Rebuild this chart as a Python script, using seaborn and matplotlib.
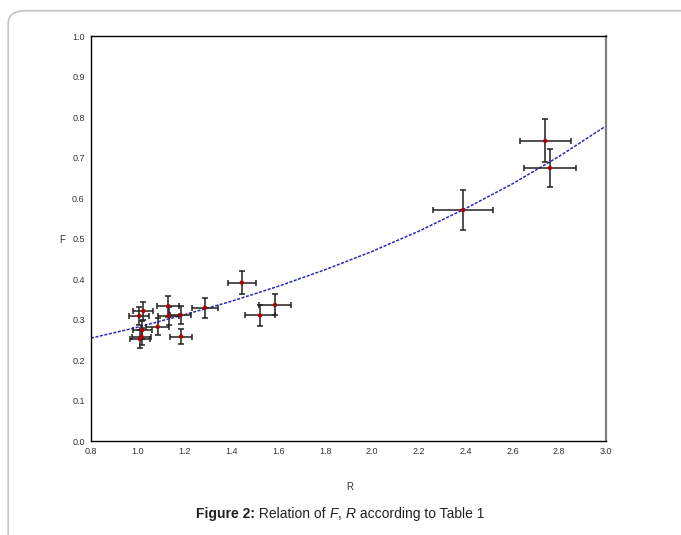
import numpy as np
import pandas as pd
import matplotlib
matplotlib.use('Agg')
import matplotlib.pyplot as plt
import seaborn as sns
from matplotlib.patches import FancyBboxPatch

R = [1.009, 1.016, 1.019, 1.006, 1.024, 1.085, 1.130, 1.132, 1.183, 1.185,
     1.287, 1.444, 1.522, 1.586, 2.389, 2.740, 2.760]
F = [0.252, 0.258, 0.274, 0.309, 0.321, 0.282, 0.333, 0.309, 0.311, 0.258,
     0.329, 0.391, 0.310, 0.336, 0.570, 0.741, 0.674]
R_err = [0.044, 0.040, 0.040, 0.042, 0.043, 0.048, 0.046, 0.046, 0.046, 0.046,
         0.056, 0.060, 0.063, 0.068, 0.128, 0.109, 0.110]
F_err = [0.022, 0.020, 0.022, 0.022, 0.022, 0.021, 0.026, 0.022, 0.022, 0.019,
         0.025, 0.028, 0.025, 0.026, 0.049, 0.053, 0.048]

# fitted curve, read at 0.2 steps
fit_R = [0.8, 1.0, 1.2, 1.4, 1.6, 1.8, 2.0, 2.2, 2.4, 2.6, 2.8, 3.0]
fit_F = [0.254, 0.281, 0.312, 0.345, 0.382, 0.423, 0.468, 0.518, 0.574, 0.635, 0.703, 0.778]

x_ticks = [0.8, 1.0, 1.2, 1.4, 1.6, 1.8, 2.0, 2.2, 2.4, 2.6, 2.8, 3.0]
y_ticks = [0.0, 0.1, 0.2, 0.3, 0.4, 0.5, 0.6, 0.7, 0.8, 0.9, 1.0]

# caption pieces: (text, weight, style)
caption = [('Figure 2:', 'bold', 'normal'), (' Relation of ', 'normal', 'normal'),
           ('F', 'normal', 'italic'), (', ', 'normal', 'normal'),
           ('R', 'normal', 'italic'), (' according to Table 1', 'normal', 'normal')]

df = pd.DataFrame({'R': R, 'F': F})
fit = pd.DataFrame({'R': fit_R, 'F': fit_F})

sns.set_style('white')
plt.rcParams['font.family'] = ['Liberation Sans', 'DejaVu Sans']

fig = plt.figure(figsize=(6.81, 5.35), dpi=100)
ax = fig.add_axes([0.1336, 0.1757, 0.7564, 0.757])

# page frame
frame = FancyBboxPatch((0.012, -0.1), 1.1, 1.08, boxstyle='round,pad=0,rounding_size=0.025',
                       transform=fig.transFigure, fill=False, edgecolor='#c4c4c4', lw=1.2,
                       clip_on=False)
fig.patches.append(frame)

sns.lineplot(data=fit, x='R', y='F', ax=ax, color='#2a2ab8', lw=1.1,
             linestyle=(0, (2, 1)), sort=False)
ax.errorbar(R, F, xerr=R_err, yerr=F_err, fmt='none', ecolor='#202020',
            elinewidth=1.1, capsize=2.5, capthick=1.1)
sns.scatterplot(data=df, x='R', y='F', ax=ax, color='#b00000', s=10,
                edgecolor='none', zorder=5)

ax.set_xlim(0.8, 3.0)
ax.set_ylim(0.0, 1.0)
ax.set_xticks(x_ticks)
ax.set_yticks(y_ticks)
ax.set_xticklabels([f'{v:.1f}' for v in x_ticks])
ax.set_yticklabels([f'{v:.1f}' for v in y_ticks])
ax.tick_params(axis='both', direction='out', length=3, width=0.8, labelsize=6.5,
               colors='black', pad=1.5)
for lab in ax.get_xticklabels() + ax.get_yticklabels():
    lab.set_color('#333333')

for s in ['left', 'bottom', 'top']:
    ax.spines[s].set_color('black')
    ax.spines[s].set_linewidth(1.0)
ax.spines['right'].set_color('#808080')
ax.spines['right'].set_linewidth(1.6)

ax.set_xlabel('')
ax.set_ylabel('')
fig.text(62 / 681, 1 - 240 / 535, 'F', fontsize=7, color='#333333', ha='center', va='center')
fig.text(350 / 681, 1 - 487 / 535, 'R', fontsize=7, color='#333333', ha='center', va='center')

# caption built from pieces, then centred
renderer = fig.canvas.get_renderer()
x0 = 196
y0 = 535 - 518
pieces = []
for txt, w, st in caption:
    t = fig.text(x0 / 681, y0 / 535, txt, fontsize=10, fontweight=w, fontstyle=st,
                 color='#222222', ha='left', va='baseline')
    pieces.append(t)
    x0 += t.get_window_extent(renderer).width
total = x0 - 196
shift = 340 - (196 + total / 2)
for t in pieces:
    px, py = t.get_position()
    t.set_position((px + shift / 681, py))

fig.savefig('out.png', dpi=100)
